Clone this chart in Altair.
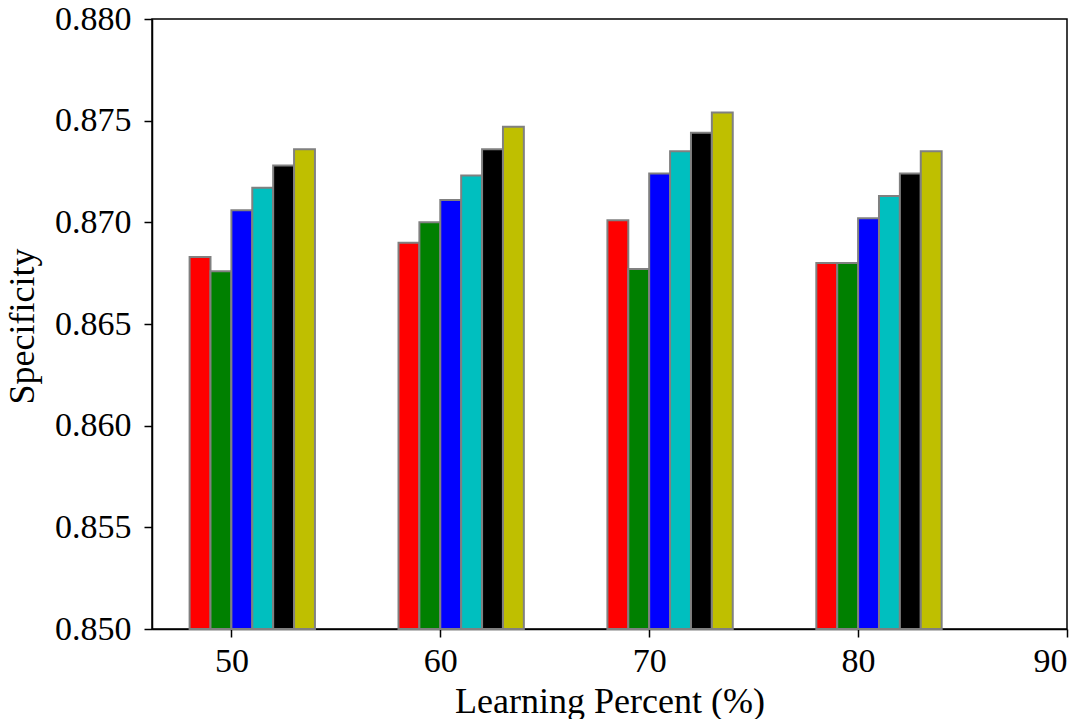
import altair as alt
import pandas as pd

groups = [50, 60, 70, 80]
series_names = ["S1", "S2", "S3", "S4", "S5", "S6"]
series_colors = ["#ff0000", "#008000", "#0000ff", "#00bfbf", "#000000", "#bfbf00"]
red = [0.8683, 0.8690, 0.8701, 0.8680]
green = [0.8676, 0.8700, 0.8677, 0.8680]
blue = [0.8706, 0.8711, 0.8724, 0.8702]
cyan = [0.8717, 0.8723, 0.8735, 0.8713]
black = [0.8728, 0.8736, 0.8744, 0.8724]
yellow = [0.8736, 0.8747, 0.8754, 0.8735]
x_ticks = [50, 60, 70, 80, 90]
y_ticks = [0.850, 0.855, 0.860, 0.865, 0.870, 0.875, 0.880]

series_values = [red, green, blue, cyan, black, yellow]
rows = []
for i, (name, vals) in enumerate(zip(series_names, series_values)):
    for g, v in zip(groups, vals):
        rows.append({"series": name, "x0": g - 2 + i, "x1": g - 1 + i, "value": v, "base": 0.85})
df = pd.DataFrame(rows)

font = "Liberation Serif"

bars = alt.Chart(df).mark_bar(stroke="#808080", strokeWidth=2, opacity=1).encode(
    x=alt.X("x0:Q",
            scale=alt.Scale(domain=[46.2, 90], nice=False, zero=False),
            axis=alt.Axis(values=x_ticks, format="d", title="Learning Percent (%)",
                          labelPadding=7,
                          titleY=83, titleBaseline="alphabetic")),
    x2="x1:Q",
    y=alt.Y("value:Q",
            scale=alt.Scale(domain=[0.85, 0.88], nice=False, zero=False),
            axis=alt.Axis(values=y_ticks, format=".3f", title="Specificity",
                          labelPadding=13,
                          titleAngle=270, titleX=-119, titleY=307,
                          titleAlign="center", titleBaseline="alphabetic")),
    y2="base:Q",
    color=alt.Color("series:N", scale=alt.Scale(domain=series_names, range=series_colors), legend=None),
)

chart = bars.properties(
    width=915, height=610,
    autosize=alt.AutoSizeParams(type="none"),
    padding={"left": 144, "top": 11, "right": 10, "bottom": 90},
).configure_view(
    stroke="black", strokeWidth=1.5
).configure_axis(
    grid=False,
    domainColor="black", domainWidth=1.5,
    tickColor="black", tickSize=8, tickWidth=1.5,
    labelFont=font, labelFontSize=34, labelColor="black",
    titleFont=font, titleFontSize=36, titleFontWeight="normal", titleColor="black",
)

chart.save("out.html", embed_options={"renderer": "svg", "actions": False})
